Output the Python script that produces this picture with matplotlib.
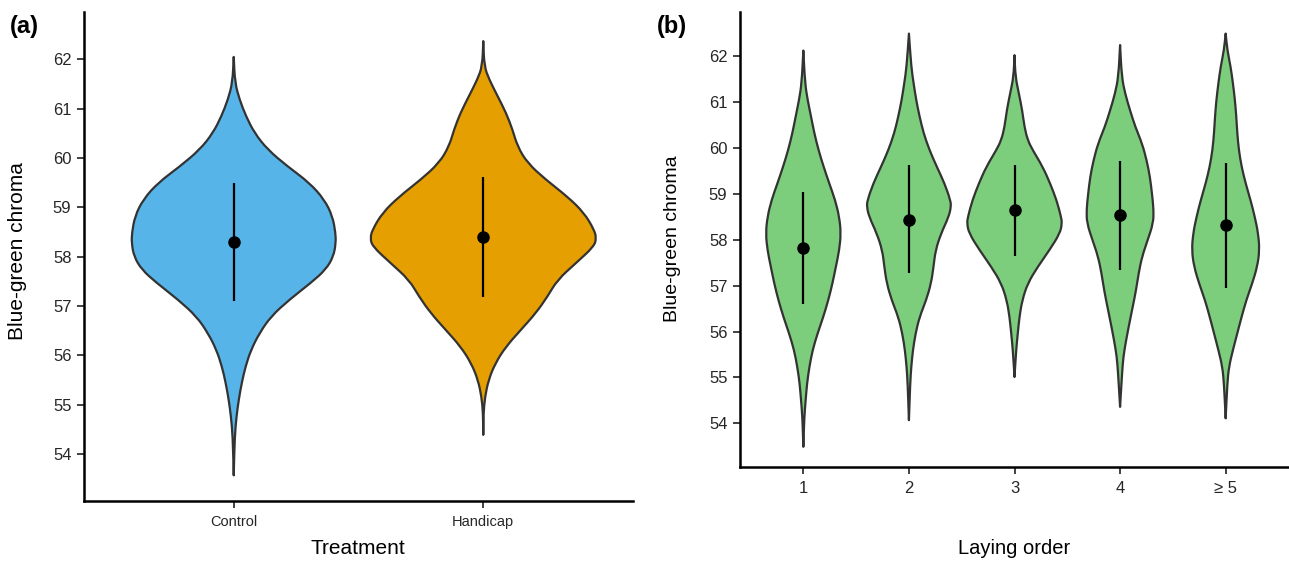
import numpy as np
import matplotlib
matplotlib.use("Agg")
import matplotlib.pyplot as plt
from matplotlib.path import Path
from matplotlib.patches import PathPatch

plt.rcParams['font.family'] = ['Liberation Sans', 'DejaVu Sans']

# ---- panel (a): treatment ----
treat_labels = ['Control', 'Handicap']
treat_colors = ['#56B4E9', '#E69F00']
treat_mean = [58.30, 58.40]
treat_lo = [57.11, 57.18]
treat_hi = [59.50, 59.61]

# violin outlines: y value and half width (x units), top -> bottom
ctrl_y = [62.05, 61.53, 61.19, 60.85, 60.51, 60.17, 59.83, 59.50, 59.16, 58.82, 58.48, 58.28,
          58.01, 57.74, 57.47, 57.13, 56.79, 56.45, 56.11, 55.77, 55.44, 55.10, 54.76, 54.35, 53.57]
ctrl_w = [0, 0.005, 0.023, 0.049, 0.083, 0.136, 0.216, 0.303, 0.363, 0.396, 0.408, 0.409,
          0.400, 0.369, 0.309, 0.223, 0.149, 0.103, 0.069, 0.047, 0.032, 0.020, 0.011, 0.004, 0]
hand_y = [62.37, 61.86, 61.59, 61.26, 60.92, 60.58, 60.24, 59.90, 59.56, 59.22, 58.89, 58.55,
          58.38, 58.21, 57.87, 57.53, 57.19, 56.86, 56.52, 56.18, 55.84, 55.50, 55.16, 54.83, 54.39]
hand_w = [0, 0.004, 0.024, 0.057, 0.091, 0.117, 0.137, 0.177, 0.251, 0.337, 0.404, 0.444,
          0.453, 0.444, 0.371, 0.297, 0.257, 0.211, 0.151, 0.091, 0.048, 0.021, 0.007, 0.001, 0]

# ---- panel (b): laying order ----
order_labels = ['1', '2', '3', '4', '\u2265 5']
order_color = '#7CCD7C'
order_mean = [57.82, 58.44, 58.64, 58.54, 58.32]
order_lo = [56.61, 57.27, 57.65, 57.35, 56.95]
order_hi = [59.03, 59.63, 59.63, 59.71, 59.68]

v1_y = [62.12, 61.41, 61.04, 60.68, 60.32, 59.95, 59.59, 59.23, 58.86, 58.50, 58.14, 57.77,
        57.41, 57.05, 56.68, 56.32, 55.96, 55.60, 55.23, 54.87, 54.51, 54.14, 53.49]
v1_w = [0, 0.016, 0.041, 0.073, 0.104, 0.144, 0.192, 0.245, 0.302, 0.340, 0.356, 0.340,
        0.308, 0.276, 0.236, 0.189, 0.135, 0.088, 0.057, 0.035, 0.022, 0.009, 0]
v2_y = [62.49, 61.77, 61.41, 61.04, 60.68, 60.32, 59.95, 59.59, 59.23, 58.86, 58.72, 58.50,
        58.14, 57.77, 57.41, 57.05, 56.68, 56.32, 55.96, 55.60, 55.23, 54.87, 54.07]
v2_w = [0, 0.022, 0.044, 0.069, 0.101, 0.139, 0.195, 0.264, 0.337, 0.393, 0.399, 0.377,
        0.305, 0.252, 0.233, 0.210, 0.163, 0.101, 0.063, 0.038, 0.022, 0.012, 0]
v3_y = [62.02, 61.55, 61.19, 60.82, 60.46, 60.17, 59.95, 59.59, 59.23, 58.86, 58.50, 58.36,
        58.14, 57.77, 57.41, 57.05, 56.68, 56.32, 55.96, 55.60, 55.01]
v3_w = [0, 0.009, 0.041, 0.073, 0.094, 0.125, 0.173, 0.267, 0.337, 0.399, 0.441, 0.450,
        0.431, 0.330, 0.220, 0.125, 0.073, 0.047, 0.031, 0.016, 0]
v4_y = [62.24, 61.55, 61.19, 60.82, 60.46, 60.10, 59.73, 59.37, 59.01, 58.65, 58.36, 57.99,
        57.63, 57.27, 56.90, 56.54, 56.18, 55.81, 55.45, 55.09, 54.36]
v4_w = [0, 0.016, 0.047, 0.094, 0.144, 0.208, 0.252, 0.283, 0.302, 0.318, 0.314, 0.261,
        0.208, 0.176, 0.151, 0.120, 0.088, 0.057, 0.031, 0.019, 0]
v5_y = [62.49, 62.13, 61.77, 61.41, 61.04, 60.68, 60.32, 59.95, 59.59, 59.23, 58.86, 58.50,
        58.14, 57.77, 57.41, 57.05, 56.68, 56.32, 55.96, 55.60, 55.23, 54.87, 54.11]
v5_w = [0, 0.016, 0.047, 0.069, 0.088, 0.101, 0.110, 0.125, 0.151, 0.189, 0.236, 0.276,
        0.308, 0.321, 0.299, 0.252, 0.195, 0.151, 0.110, 0.069, 0.031, 0.016, 0]

OUTLINE = '#333333'
TXT = '#262626'


def draw_violin(ax, pos, ys, ws, color):
    # repeat the tips so the smoothed outline still reaches them
    ys = np.r_[ys[0], ys, ys[-1]]
    ws = np.r_[ws[0], ws, ws[-1]]
    # right side top->bottom, then left side bottom->top
    pts = np.vstack([np.column_stack([pos + ws, ys]),
                     np.column_stack([pos - ws[::-1], ys[::-1]])[1:]])
    verts = [pts[0], (pts[0] + pts[1]) / 2]
    codes = [Path.MOVETO, Path.LINETO]
    for i in range(1, len(pts) - 1):
        verts += [pts[i], (pts[i] + pts[i + 1]) / 2]
        codes += [Path.CURVE3, Path.CURVE3]
    verts.append(pts[-1])
    codes.append(Path.LINETO)
    verts.append(pts[0])
    codes.append(Path.CLOSEPOLY)
    ax.add_patch(PathPatch(Path(verts, codes), facecolor=color, edgecolor=OUTLINE,
                           lw=1.6, joinstyle='round', zorder=2))


def style_axes(ax, n, labels, xfs):
    ax.set_xlim(0.4, n + 0.6)
    ax.set_ylim(53.05, 62.96)
    ax.set_yticks(range(54, 63))
    ax.set_xticks(range(1, n + 1))
    ax.set_xticklabels(labels)
    for s in ['top', 'right']:
        ax.spines[s].set_visible(False)
    for s in ['left', 'bottom']:
        ax.spines[s].set_linewidth(1.8)
        ax.spines[s].set_color('black')
    ax.tick_params(axis='both', length=5, width=1.3, color='#333333', labelcolor=TXT)
    ax.tick_params(axis='y', labelsize=12, pad=4)
    ax.tick_params(axis='x', labelsize=xfs, pad=5)


fig = plt.figure(figsize=(12.89, 5.62), dpi=100)
W, H = 1289, 562

ax1 = fig.add_axes([84 / W, 1 - 501 / H, 549 / W, 489 / H])
ax2 = fig.add_axes([740 / W, 1 - 467 / H, 549 / W, 455 / H])

for i, (ys, ws) in enumerate([(ctrl_y, ctrl_w), (hand_y, hand_w)]):
    draw_violin(ax1, i + 1, ys, ws, treat_colors[i])
x1 = np.arange(1, len(treat_labels) + 1)
ax1.vlines(x1, treat_lo, treat_hi, color='black', lw=1.6, zorder=3)
ax1.plot(x1, treat_mean, 'o', color='black', ms=8, zorder=4)
style_axes(ax1, 2, treat_labels, 10.5)

profiles = [(v1_y, v1_w), (v2_y, v2_w), (v3_y, v3_w), (v4_y, v4_w), (v5_y, v5_w)]
for i, (ys, ws) in enumerate(profiles):
    draw_violin(ax2, i + 1, ys, ws, order_color)
x2 = np.arange(1, len(order_labels) + 1)
ax2.vlines(x2, order_lo, order_hi, color='black', lw=1.6, zorder=3)
ax2.plot(x2, order_mean, 'o', color='black', ms=8, zorder=4)
style_axes(ax2, 5, order_labels, 12)

# axis titles and panel tags
fig.text(358 / W, 1 - 549 / H, 'Treatment', ha='center', va='center', fontsize=15, color='black')
fig.text(1014 / W, 1 - 549 / H, 'Laying order', ha='center', va='center', fontsize=14.5, color='black')
fig.text(18 / W, 1 - 251 / H, 'Blue-green chroma', rotation=90, ha='center', va='center',
         fontsize=15, color='black')
fig.text(673 / W, 1 - 239 / H, 'Blue-green chroma', rotation=90, ha='center', va='center',
         fontsize=14, color='black')
fig.text(10 / W, 1 - 26 / H, '(a)', ha='left', va='center', fontsize=17, fontweight='bold')
fig.text(657 / W, 1 - 26 / H, '(b)', ha='left', va='center', fontsize=17, fontweight='bold')

fig.savefig('out.png', dpi=100)
